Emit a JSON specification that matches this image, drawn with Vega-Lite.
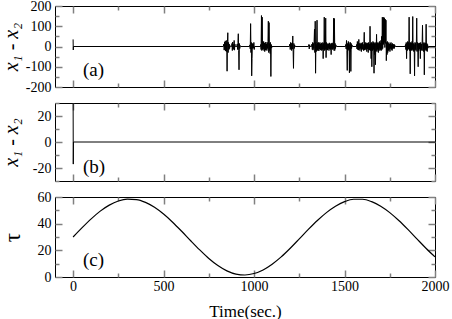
{
  "$schema": "https://vega.github.io/schema/vega-lite/v6.json",
  "padding": {"left": 0, "top": -2, "right": 18, "bottom": 2},
  "background": "white",
  "spacing": 0,
  "config": {
    "font": "Liberation Serif",
    "view": {"stroke": "black", "strokeWidth": 1},
    "style": {"guide-label": {"font": "Liberation Serif"}, "guide-title": {"font": "Liberation Serif"}},
    "axis": {"domain": false, "grid": false, "tickColor": "#808080", "tickWidth": 1.5, "labelFont": "Liberation Serif", "labelFontSize": 14, "labelColor": "black", "titleFont": "Liberation Serif", "titleColor": "black", "titleFontWeight": "normal", "labelFlush": false, "labelOverlap": false, "labelBound": false}
  },
  "datasets": {
    "a": [
      {"t":0,"v":35},{"t":1,"v":-17},{"t":2,"v":0},
      {"t":830,"v":0},{"t":833,"v":12},{"t":835,"v":-18},{"t":837,"v":22},{"t":839,"v":-14},{"t":841,"v":28},{"t":843,"v":-22},{"t":845,"v":18},{"t":847,"v":-25},{"t":849,"v":30},{"t":851,"v":-122},{"t":853,"v":25},{"t":855,"v":68},{"t":857,"v":-30},{"t":859,"v":20},{"t":861,"v":-15},{"t":863,"v":12},{"t":865,"v":-10},{"t":867,"v":5},{"t":870,"v":0},
      {"t":876,"v":0},{"t":878,"v":15},{"t":880,"v":-20},{"t":882,"v":22},{"t":884,"v":-12},{"t":886,"v":10},{"t":888,"v":-15},{"t":890,"v":30},{"t":892,"v":-18},{"t":894,"v":12},{"t":896,"v":0},
      {"t":905,"v":0},{"t":907,"v":12},{"t":909,"v":-15},{"t":911,"v":20},{"t":913,"v":63},{"t":915,"v":-20},{"t":917,"v":-115},{"t":919,"v":15},{"t":921,"v":-10},{"t":923,"v":5},{"t":926,"v":0},
      {"t":975,"v":0},{"t":977,"v":8},{"t":979,"v":-12},{"t":981,"v":113},{"t":983,"v":-30},{"t":985,"v":20},{"t":987,"v":-145},{"t":989,"v":-60},{"t":991,"v":15},{"t":993,"v":-10},{"t":995,"v":12},{"t":997,"v":-8},{"t":999,"v":20},{"t":1001,"v":-15},{"t":1003,"v":0},
      {"t":1035,"v":0},{"t":1037,"v":10},{"t":1039,"v":-15},{"t":1041,"v":153},{"t":1043,"v":-20},{"t":1045,"v":145},{"t":1047,"v":-15},{"t":1049,"v":20},{"t":1051,"v":-12},{"t":1053,"v":25},{"t":1055,"v":-20},{"t":1057,"v":18},{"t":1059,"v":-25},{"t":1061,"v":15},{"t":1063,"v":-18},{"t":1065,"v":22},{"t":1067,"v":-15},{"t":1069,"v":12},{"t":1071,"v":-20},{"t":1073,"v":20},{"t":1075,"v":-10},{"t":1077,"v":25},{"t":1079,"v":125},{"t":1081,"v":-30},{"t":1083,"v":118},{"t":1085,"v":-20},{"t":1087,"v":15},{"t":1089,"v":-35},{"t":1091,"v":20},{"t":1093,"v":-148},{"t":1095,"v":10},{"t":1097,"v":-8},{"t":1099,"v":0},
      {"t":1195,"v":0},{"t":1198,"v":12},{"t":1200,"v":-15},{"t":1202,"v":20},{"t":1204,"v":-10},{"t":1206,"v":15},{"t":1208,"v":-20},{"t":1210,"v":18},{"t":1212,"v":-12},{"t":1214,"v":52},{"t":1216,"v":-20},{"t":1218,"v":-108},{"t":1220,"v":15},{"t":1222,"v":-10},{"t":1224,"v":8},{"t":1227,"v":0},
      {"t":1300,"v":0},{"t":1303,"v":10},{"t":1305,"v":-12},{"t":1307,"v":8},{"t":1310,"v":0},{"t":1318,"v":0},{"t":1320,"v":12},{"t":1322,"v":-15},{"t":1324,"v":20},{"t":1326,"v":-18},{"t":1328,"v":15},{"t":1330,"v":-10},{"t":1332,"v":25},{"t":1334,"v":85},{"t":1336,"v":-30},{"t":1338,"v":125},{"t":1340,"v":-132},{"t":1342,"v":20},{"t":1344,"v":-25},{"t":1346,"v":15},{"t":1348,"v":130},{"t":1350,"v":-20},{"t":1352,"v":18},{"t":1354,"v":-15},{"t":1356,"v":20},{"t":1358,"v":-22},{"t":1360,"v":15},{"t":1362,"v":-12},{"t":1364,"v":20},{"t":1366,"v":-18},{"t":1368,"v":12},{"t":1370,"v":-15},{"t":1372,"v":18},{"t":1374,"v":-20},{"t":1376,"v":10},{"t":1378,"v":-15},{"t":1380,"v":20},{"t":1382,"v":-60},{"t":1384,"v":15},{"t":1386,"v":-12},{"t":1388,"v":145},{"t":1390,"v":-20},{"t":1392,"v":18},{"t":1394,"v":-15},{"t":1396,"v":140},{"t":1398,"v":-55},{"t":1400,"v":20},{"t":1402,"v":-15},{"t":1404,"v":12},{"t":1406,"v":-18},{"t":1408,"v":15},{"t":1410,"v":-10},{"t":1412,"v":12},{"t":1414,"v":-20},{"t":1416,"v":18},{"t":1418,"v":-12},{"t":1420,"v":15},{"t":1422,"v":-15},{"t":1424,"v":10},{"t":1426,"v":-40},{"t":1428,"v":15},{"t":1430,"v":-12},{"t":1432,"v":18},{"t":1434,"v":-15},{"t":1436,"v":12},{"t":1438,"v":-10},{"t":1440,"v":140},{"t":1442,"v":-20},{"t":1444,"v":138},{"t":1446,"v":-20},{"t":1448,"v":15},{"t":1450,"v":-10},{"t":1452,"v":8},{"t":1455,"v":0},
      {"t":1505,"v":0},{"t":1507,"v":10},{"t":1509,"v":-12},{"t":1511,"v":30},{"t":1513,"v":-20},{"t":1515,"v":-118},{"t":1517,"v":15},{"t":1519,"v":-20},{"t":1521,"v":25},{"t":1523,"v":-15},{"t":1525,"v":20},{"t":1527,"v":-130},{"t":1529,"v":10},{"t":1531,"v":-25},{"t":1533,"v":20},{"t":1535,"v":-123},{"t":1537,"v":15},{"t":1539,"v":-10},{"t":1541,"v":8},{"t":1544,"v":0},
      {"t":1565,"v":0},{"t":1567,"v":10},{"t":1569,"v":-12},{"t":1571,"v":25},{"t":1573,"v":-15},{"t":1575,"v":20},{"t":1577,"v":-18},{"t":1579,"v":35},{"t":1581,"v":-12},{"t":1583,"v":15},{"t":1585,"v":-20},{"t":1587,"v":12},{"t":1589,"v":-10},{"t":1591,"v":18},{"t":1593,"v":-25},{"t":1595,"v":15},{"t":1597,"v":-12},{"t":1599,"v":20},{"t":1601,"v":-15},{"t":1603,"v":10},{"t":1605,"v":-20},{"t":1607,"v":15},{"t":1609,"v":70},{"t":1611,"v":-18},{"t":1613,"v":12},{"t":1615,"v":-15},{"t":1617,"v":20},{"t":1619,"v":-10},{"t":1621,"v":15},{"t":1623,"v":-25},{"t":1625,"v":18},{"t":1627,"v":-12},{"t":1629,"v":15},{"t":1631,"v":-30},{"t":1633,"v":20},{"t":1635,"v":-15},{"t":1637,"v":12},{"t":1639,"v":-18},{"t":1641,"v":100},{"t":1643,"v":-20},{"t":1645,"v":15},{"t":1647,"v":-60},{"t":1649,"v":20},{"t":1651,"v":-100},{"t":1653,"v":15},{"t":1655,"v":-20},{"t":1657,"v":25},{"t":1659,"v":-15},{"t":1661,"v":20},{"t":1663,"v":-132},{"t":1665,"v":15},{"t":1667,"v":-40},{"t":1669,"v":20},{"t":1671,"v":-90},{"t":1673,"v":15},{"t":1675,"v":-20},{"t":1677,"v":60},{"t":1679,"v":-25},{"t":1681,"v":18},{"t":1683,"v":-15},{"t":1685,"v":20},{"t":1687,"v":-30},{"t":1689,"v":15},{"t":1691,"v":-10},{"t":1693,"v":25},{"t":1695,"v":-20},{"t":1697,"v":18},{"t":1699,"v":-15},{"t":1701,"v":30},{"t":1703,"v":-20},{"t":1705,"v":50},{"t":1707,"v":-15},{"t":1709,"v":145},{"t":1711,"v":-10},{"t":1713,"v":140},{"t":1715,"v":10},{"t":1717,"v":145},{"t":1719,"v":20},{"t":1721,"v":140},{"t":1723,"v":-5},{"t":1725,"v":135},{"t":1727,"v":15},{"t":1729,"v":130},{"t":1731,"v":-70},{"t":1733,"v":20},{"t":1735,"v":-40},{"t":1737,"v":25},{"t":1739,"v":-30},{"t":1741,"v":15},{"t":1743,"v":-20},{"t":1745,"v":20},{"t":1747,"v":-15},{"t":1749,"v":12},{"t":1751,"v":-25},{"t":1753,"v":15},{"t":1755,"v":-10},{"t":1757,"v":20},{"t":1759,"v":-15},{"t":1761,"v":10},{"t":1763,"v":-20},{"t":1765,"v":15},{"t":1767,"v":-12},{"t":1769,"v":10},{"t":1771,"v":-8},{"t":1773,"v":12},{"t":1775,"v":-10},{"t":1777,"v":8},{"t":1780,"v":0},
      {"t":1835,"v":0},{"t":1837,"v":10},{"t":1839,"v":-15},{"t":1841,"v":20},{"t":1843,"v":-60},{"t":1845,"v":15},{"t":1847,"v":-20},{"t":1849,"v":25},{"t":1851,"v":-15},{"t":1853,"v":20},{"t":1855,"v":-12},{"t":1857,"v":145},{"t":1859,"v":-20},{"t":1861,"v":15},{"t":1863,"v":-135},{"t":1865,"v":20},{"t":1867,"v":-15},{"t":1869,"v":18},{"t":1871,"v":-20},{"t":1873,"v":25},{"t":1875,"v":-15},{"t":1877,"v":148},{"t":1879,"v":-20},{"t":1881,"v":15},{"t":1883,"v":-25},{"t":1885,"v":10},{"t":1887,"v":-145},{"t":1889,"v":20},{"t":1891,"v":-15},{"t":1893,"v":18},{"t":1895,"v":-20},{"t":1897,"v":15},{"t":1899,"v":140},{"t":1901,"v":-25},{"t":1903,"v":20},{"t":1905,"v":-15},{"t":1907,"v":-100},{"t":1909,"v":15},{"t":1911,"v":-20},{"t":1913,"v":18},{"t":1915,"v":-12},{"t":1917,"v":15},{"t":1919,"v":-60},{"t":1921,"v":20},{"t":1923,"v":-15},{"t":1925,"v":12},{"t":1927,"v":-20},{"t":1929,"v":18},{"t":1931,"v":105},{"t":1933,"v":-20},{"t":1935,"v":15},{"t":1937,"v":-25},{"t":1939,"v":20},{"t":1941,"v":-140},{"t":1943,"v":15},{"t":1945,"v":-20},{"t":1947,"v":18},{"t":1949,"v":-15},{"t":1951,"v":110},{"t":1953,"v":-20},{"t":1955,"v":15},{"t":1957,"v":-25},{"t":1959,"v":10},{"t":1961,"v":-8},{"t":1963,"v":0},{"t":2000,"v":0}
    ],
    "b": [{"t":0,"v":45},{"t":1,"v":-17},{"t":2,"v":0},{"t":2000,"v":0}],
    "c": [
      {"t":0,"v":30},{"t":50,"v":37},{"t":100,"v":43.6},{"t":150,"v":49.4},{"t":200,"v":53.9},{"t":250,"v":57},{"t":300,"v":58.4},{"t":350,"v":58.1},{"t":400,"v":56},{"t":450,"v":52.3},{"t":500,"v":47.2},{"t":550,"v":41.1},{"t":600,"v":34.3},{"t":650,"v":27.2},{"t":700,"v":20.3},{"t":750,"v":13.9},{"t":800,"v":8.6},{"t":850,"v":4.6},{"t":900,"v":2.2},{"t":950,"v":1.5},{"t":1000,"v":2.6},{"t":1050,"v":5.3},{"t":1100,"v":9.6},{"t":1150,"v":15.1},{"t":1200,"v":21.6},{"t":1250,"v":28.6},{"t":1300,"v":35.7},{"t":1350,"v":42.4},{"t":1400,"v":48.3},{"t":1450,"v":53.1},{"t":1500,"v":56.5},{"t":1550,"v":58.3},{"t":1600,"v":58.3},{"t":1650,"v":56.5},{"t":1700,"v":53.1},{"t":1750,"v":48.3},{"t":1800,"v":42.4},{"t":1850,"v":35.7},{"t":1900,"v":28.6},{"t":1950,"v":21.6},{"t":2000,"v":15.1}
    ]
  },
  "vconcat": [
    {
      "width": 380, "height": 81,
      "layer": [
        {
          "data": {"name": "a"},
          "mark": {"type": "line", "color": "black", "strokeWidth": 1, "clip": true},
          "encoding": {
            "x": {"field": "t", "type": "quantitative", "scale": {"domain": [-100, 2000], "nice": false, "zero": false},
                  "axis": {"orient": "bottom", "title": null, "labels": false, "values": [0,250,500,750,1000,1250,1500,1750,2000], "tickSize": {"condition": {"test": "datum.value % 500 === 0", "value": -7}, "value": -4}}},
            "y": {"field": "v", "type": "quantitative", "scale": {"domain": [-200, 200], "nice": false},
                  "axis": {"orient": "left", "title": "x₁ - x₂", "titleFont": "Liberation Serif", "titleFontSize": 20, "titleFontStyle": "italic", "titlePadding": 6, "minExtent": 28, "maxExtent": 28,
                           "values": [-200,-150,-100,-50,0,50,100,150,200], "labelFont": "Liberation Serif", "labelPadding": 11, "labelExpr": "datum.value % 100 === 0 ? '' + datum.value : ''",
                           "tickSize": {"condition": {"test": "datum.value % 100 === 0", "value": -7}, "value": -4}}}
          }
        },
        {
          "data": {"values": [{"t": 55, "v": -148, "label": "(a)"}]},
          "mark": {"type": "text", "align": "left", "baseline": "alphabetic", "fontSize": 19, "font": "Liberation Serif", "color": "black"},
          "encoding": {
            "x": {"field": "t", "type": "quantitative", "axis": {"orient": "top", "title": null, "labels": false, "values": [0,250,500,750,1000,1250,1500,1750,2000], "tickSize": {"condition": {"test": "datum.value % 500 === 0", "value": -7}, "value": -4}}},
            "y": {"field": "v", "type": "quantitative", "axis": {"orient": "right", "title": null, "labels": false, "values": [-200,-150,-100,-50,0,50,100,150,200], "tickSize": {"condition": {"test": "datum.value % 100 === 0", "value": -7}, "value": -4}}},
            "text": {"field": "label"}
          }
        }
      ],
      "resolve": {"axis": {"x": "independent", "y": "independent"}}
    },
    {
      "width": 380, "height": 78,
      "layer": [
        {
          "data": {"name": "b"},
          "mark": {"type": "line", "color": "black", "strokeWidth": 1, "clip": true},
          "encoding": {
            "x": {"field": "t", "type": "quantitative", "scale": {"domain": [-100, 2000], "nice": false, "zero": false},
                  "axis": {"orient": "bottom", "title": null, "labels": false, "values": [0,250,500,750,1000,1250,1500,1750,2000], "tickSize": {"condition": {"test": "datum.value % 500 === 0", "value": -7}, "value": -4}}},
            "y": {"field": "v", "type": "quantitative", "scale": {"domain": [-30, 30], "nice": false},
                  "axis": {"orient": "left", "title": "x₁ - x₂", "titleFont": "Liberation Serif", "titleFontSize": 20, "titleFontStyle": "italic", "titlePadding": 6, "minExtent": 28, "maxExtent": 28,
                           "values": [-30,-20,-10,0,10,20,30], "labelFont": "Liberation Serif", "labelPadding": 11, "labelExpr": "datum.value % 20 === 0 ? '' + datum.value : ''",
                           "tickSize": {"condition": {"test": "datum.value % 20 === 0", "value": -7}, "value": -4}}}
          }
        },
        {
          "data": {"values": [{"t": 55, "v": -24, "label": "(b)"}]},
          "mark": {"type": "text", "align": "left", "baseline": "alphabetic", "fontSize": 19, "font": "Liberation Serif", "color": "black"},
          "encoding": {
            "x": {"field": "t", "type": "quantitative", "axis": {"orient": "top", "title": null, "labels": false, "values": [0,250,500,750,1000,1250,1500,1750,2000], "tickSize": {"condition": {"test": "datum.value % 500 === 0", "value": -7}, "value": -4}}},
            "y": {"field": "v", "type": "quantitative", "axis": {"orient": "right", "title": null, "labels": false, "values": [-30,-20,-10,0,10,20,30], "tickSize": {"condition": {"test": "datum.value % 20 === 0", "value": -7}, "value": -4}}},
            "text": {"field": "label"}
          }
        }
      ],
      "resolve": {"axis": {"x": "independent", "y": "independent"}}
    },
    {
      "width": 380, "height": 80,
      "layer": [
        {
          "data": {"name": "c"},
          "mark": {"type": "line", "color": "black", "strokeWidth": 1.2, "interpolate": "monotone", "clip": true},
          "encoding": {
            "x": {"field": "t", "type": "quantitative", "scale": {"domain": [-100, 2000], "nice": false, "zero": false},
                  "axis": {"orient": "bottom", "title": "Time(sec.)", "titleFont": "Liberation Serif", "titleFontSize": 17, "titlePadding": 7, "labelFont": "Liberation Serif", "labelPadding": 9, "values": [0,250,500,750,1000,1250,1500,1750,2000],
                           "labelExpr": "datum.value % 500 === 0 ? '' + datum.value : ''",
                           "tickSize": {"condition": {"test": "datum.value % 500 === 0", "value": -7}, "value": -4}}},
            "y": {"field": "v", "type": "quantitative", "scale": {"domain": [0, 60], "nice": false},
                  "axis": {"orient": "left", "title": "τ", "titleFont": "Liberation Serif", "titleFontSize": 23, "titlePadding": 3, "minExtent": 28, "maxExtent": 28,
                           "values": [0,10,20,30,40,50,60], "labelFont": "Liberation Serif", "labelPadding": 11, "labelExpr": "datum.value % 20 === 0 ? '' + datum.value : ''",
                           "tickSize": {"condition": {"test": "datum.value % 20 === 0", "value": -7}, "value": -4}}}
          }
        },
        {
          "data": {"values": [{"t": 55, "v": 8.5, "label": "(c)"}]},
          "mark": {"type": "text", "align": "left", "baseline": "alphabetic", "fontSize": 19, "font": "Liberation Serif", "color": "black"},
          "encoding": {
            "x": {"field": "t", "type": "quantitative", "axis": {"orient": "top", "title": null, "labels": false, "values": [0,250,500,750,1000,1250,1500,1750,2000], "tickSize": {"condition": {"test": "datum.value % 500 === 0", "value": -7}, "value": -4}}},
            "y": {"field": "v", "type": "quantitative", "axis": {"orient": "right", "title": null, "labels": false, "values": [0,10,20,30,40,50,60], "tickSize": {"condition": {"test": "datum.value % 20 === 0", "value": -7}, "value": -4}}},
            "text": {"field": "label"}
          }
        }
      ],
      "resolve": {"axis": {"x": "independent", "y": "independent"}}
    }
  ]
}
